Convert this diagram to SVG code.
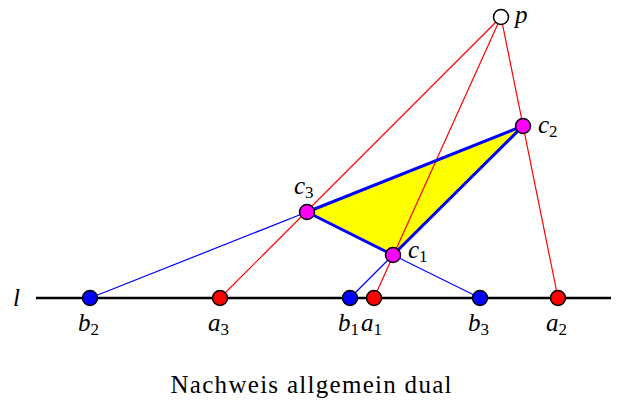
<svg xmlns="http://www.w3.org/2000/svg" width="622" height="403" viewBox="0 0 622 403">
<style>
.red{stroke:#ff0000;stroke-width:1.2;fill:none}
.blue{stroke:#0000ff;stroke-width:1.2;fill:none}
.thick{stroke:#0000ff;stroke-width:3;fill:none;stroke-linejoin:round}
.pt{stroke:#000;stroke-width:1.5}
.lab{font-family:"Liberation Serif",serif;font-style:italic;font-size:25px;fill:#000}
.sub{font-style:normal;font-size:17px}
.cap{font-family:"Liberation Serif",serif;font-size:25px;fill:#000}
</style>
<rect width="622" height="403" fill="#fff"/>
<g id="line-l">
<line x1="36" y1="298" x2="611" y2="298" stroke="#000" stroke-width="2.5"/>
</g>
<g id="connectors">
<polygon points="307,212 523,126 393,255" fill="#ffff00" stroke="none"/>
<line class="red" x1="501" y1="17" x2="220" y2="298"/>
<line class="red" x1="501" y1="17" x2="374" y2="298"/>
<line class="red" x1="501" y1="17" x2="558" y2="298"/>
<line class="blue" x1="90" y1="298" x2="307" y2="212"/>
<line class="blue" x1="350" y1="298" x2="393" y2="255"/>
<line class="blue" x1="480" y1="298" x2="393" y2="255"/>
<polygon class="thick" points="307,212 523,126 393,255"/>
</g>
<g id="node-p"><circle class="pt" cx="501" cy="17" r="7.5" fill="#fff"/><text class="lab" x="515" y="23">p</text></g>
<g id="node-c2"><circle class="pt" cx="523" cy="126" r="7.5" fill="#ff00ff"/><text class="lab" x="538" y="133">c<tspan class="sub" dy="4">2</tspan></text></g>
<g id="node-c3"><circle class="pt" cx="307" cy="212" r="7.5" fill="#ff00ff"/><text class="lab" x="294" y="194">c<tspan class="sub" dy="4">3</tspan></text></g>
<g id="node-c1"><circle class="pt" cx="393" cy="255" r="7.5" fill="#ff00ff"/><text class="lab" x="408" y="258">c<tspan class="sub" dy="4">1</tspan></text></g>
<g id="node-b2"><circle class="pt" cx="90" cy="298" r="7.5" fill="#0000ff"/><text class="lab" x="78" y="331">b<tspan class="sub" dy="4">2</tspan></text></g>
<g id="node-a3"><circle class="pt" cx="220" cy="298" r="7.5" fill="#ff0000"/><text class="lab" x="208" y="331">a<tspan class="sub" dy="4">3</tspan></text></g>
<g id="node-b1"><circle class="pt" cx="350" cy="298" r="7.5" fill="#0000ff"/><text class="lab" x="338" y="331">b<tspan class="sub" dy="4">1</tspan></text></g>
<g id="node-a1"><circle class="pt" cx="374" cy="298" r="7.5" fill="#ff0000"/><text class="lab" x="361" y="331">a<tspan class="sub" dy="4">1</tspan></text></g>
<g id="node-b3"><circle class="pt" cx="480" cy="298" r="7.5" fill="#0000ff"/><text class="lab" x="468" y="331">b<tspan class="sub" dy="4">3</tspan></text></g>
<g id="node-a2"><circle class="pt" cx="558" cy="298" r="7.5" fill="#ff0000"/><text class="lab" x="546" y="331">a<tspan class="sub" dy="4">2</tspan></text></g>
<text class="lab" x="13" y="306">l</text>
<text class="cap" x="311" y="393" text-anchor="middle" textLength="281" lengthAdjust="spacing">Nachweis allgemein dual</text>
</svg>
